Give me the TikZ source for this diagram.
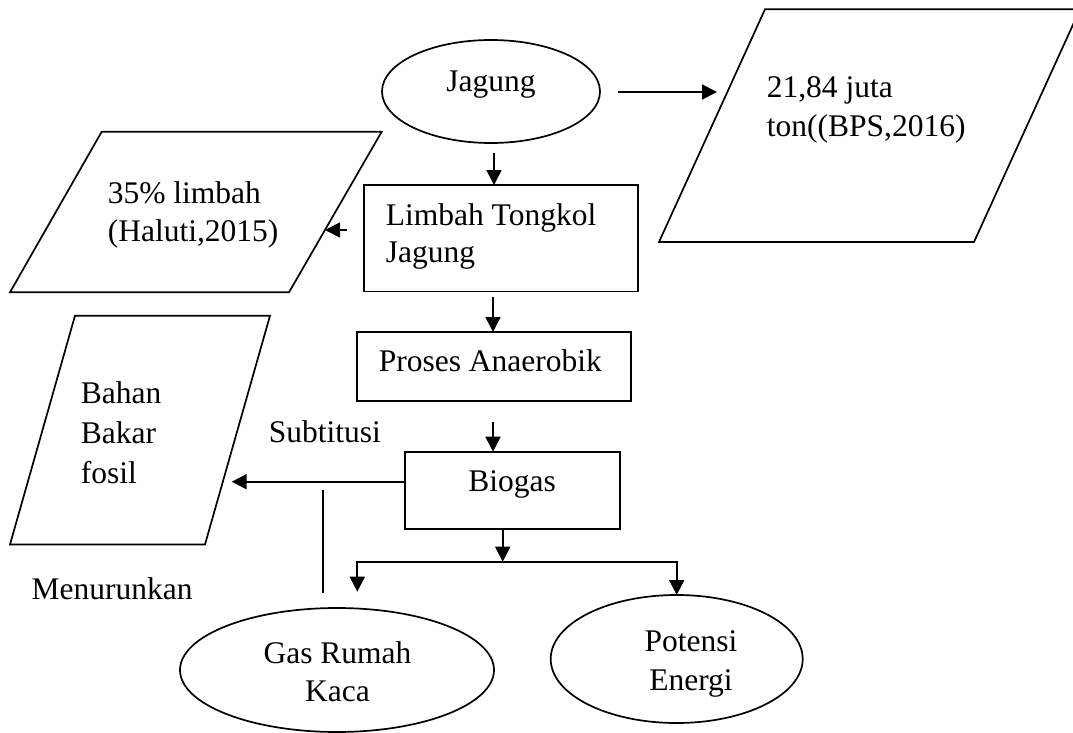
\documentclass[tikz,border=0pt]{standalone}
\usepackage{fontspec}
\setmainfont{Liberation Serif}
\usetikzlibrary{arrows.meta,shapes.geometric}
\begin{document}
\begin{tikzpicture}[x=1pt,y=-1pt,line width=1.7pt,
  tip/.tip={Triangle[length=15pt,width=15pt]},
  arr/.style={-tip},
  txt/.style={inner sep=0pt,anchor=base west,font=\fontsize{31.5}{38}\selectfont},
  ctxt/.style={inner sep=0pt,anchor=base,font=\fontsize{31.5}{38}\selectfont},
  ell/.style={draw,ellipse,inner sep=0pt,outer sep=0pt},
  box/.style={draw,rectangle,inner sep=0pt,outer sep=0pt}]
\useasboundingbox (0,0) rectangle (1073,733);
\clip (0,0) rectangle (1073,733);

% shapes
\node[ell,minimum width=218pt,minimum height=103pt] (jagung) at (491,91.5) {};
\node[box,minimum width=274pt,minimum height=106.5pt] (limbah) at (501,238.25) {};
\node[box,minimum width=274pt,minimum height=69pt] (proses) at (494,366.5) {};
\node[box,minimum width=215pt,minimum height=77.3pt] (biogas) at (512.5,490.35) {};
\node[ell,minimum width=314pt,minimum height=124pt] (grk) at (337,670) {};
\node[ell,minimum width=252pt,minimum height=128pt] (potensi) at (676.7,659) {};

% parallelograms
\draw (765,9.3) coordinate (bpsA) -- (1080,9.3) -- (974,242) -- (659,242) -- cycle;
\draw (101.7,131.7) coordinate (halA) -- (381.7,131.7) -- (289,292.3) -- (10,292.3) -- cycle;
\draw (75,315.7) coordinate (fosA) -- (270,315.7) -- (205,544.5) -- (10,544.5) -- cycle;

% texts
\node[ctxt] (tjagung) at (491,92) {Jagung};
\node[txt] (tbps1) at (766,98) {21,84 juta};
\node[txt] (tbps2) at (766,137) {ton((BPS,2016)};
\node[txt] (tlim1) at (385,225) {Limbah Tongkol};
\node[txt] (tlim2) at (385,262) {Jagung};
\node[txt] (thal1) at (107,203) {35\% limbah};
\node[txt] (thal2) at (107,241) {(Haluti,2015)};
\node[txt] (tpro) at (378,371.7) {Proses Anaerobik};
\node[ctxt] (tbio) at (512,491.7) {Biogas};
\node[txt] (tsub) at (268,442.7) {Subtitusi};
\node[txt] (tfos1) at (80,403) {Bahan};
\node[txt] (tfos2) at (80,443) {Bakar};
\node[txt] (tfos3) at (80,483) {fosil};
\node[txt] (tmen) at (30.7,599.3) {Menurunkan};
\node[ctxt] (tgrk1) at (337.5,663) {Gas Rumah};
\node[ctxt] (tgrk2) at (337.5,701.7) {Kaca};
\node[ctxt] (tpot1) at (691,651.7) {Potensi};
\node[ctxt] (tpot2) at (691,690) {Energi};

% connectors
\coordinate (j1) at (618,92);
\coordinate (j2) at (717,92);
\draw[arr] (j1) -- (j2);
\coordinate (j3) at (494,153);
\draw[arr] (j3) -- (j3 |- limbah.north);
\coordinate (l1) at (347,230);
\coordinate (l2) at (325,230);
\draw[arr] (l1) -- (l2);
\coordinate (l3) at (493,296.7);
\draw[arr] (l3) -- (l3 |- proses.north);
\coordinate (p1) at (493,421.7);
\draw[arr] (p1) -- (p1 |- biogas.north);
\coordinate (b1) at (405,481.7);
\coordinate (bf) at (231.7,481.7);
\draw[arr] (b1) -- (bf);
\coordinate (v1) at (322.7,490);
\coordinate (v2) at (322.7,593);
\draw (v1) -- (v2);
\coordinate (s0) at (502.7,561.7);
\draw[arr] (s0 |- biogas.south) -- (s0);
\coordinate (sL) at (357.3,561.7);
\coordinate (sR) at (676.7,561.7);
\coordinate (gL) at (357.3,591.7);
\draw[tip-tip] (gL) -- (sL) -- (sR) -- (potensi.north);
\end{tikzpicture}
\end{document}
